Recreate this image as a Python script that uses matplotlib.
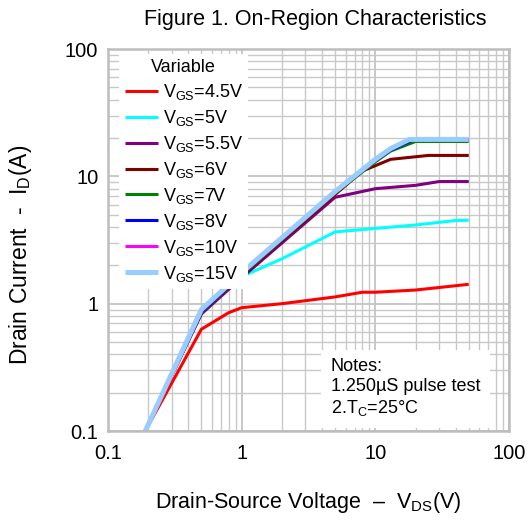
import matplotlib
matplotlib.use("Agg")
import matplotlib.pyplot as plt
from matplotlib.ticker import FixedLocator, FixedFormatter, LogLocator, NullFormatter

plt.rcParams['font.family'] = ['Liberation Sans', 'DejaVu Sans']
plt.rcParams['mathtext.fontset'] = 'custom'
plt.rcParams['mathtext.rm'] = 'Liberation Sans'
plt.rcParams['mathtext.it'] = 'Liberation Sans'

# Vds [V] -> Id [A]
x_45 = [0.19, 0.5, 0.8, 1, 2, 5, 8, 10, 20, 30, 50]
y_45 = [0.1, 0.63, 0.85, 0.93, 1.0, 1.13, 1.23, 1.23, 1.28, 1.34, 1.42]

x_5 = [0.19, 0.5, 1, 2, 5, 10, 20, 40, 50]
y_5 = [0.1, 0.85, 1.63, 2.25, 3.66, 3.9, 4.15, 4.5, 4.52]

x_55 = [0.19, 0.5, 1, 5, 10, 20, 30, 50]
y_55 = [0.1, 0.83, 1.6, 6.85, 8.0, 8.5, 9.1, 9.1]

x_6 = [0.19, 0.5, 1, 5, 8, 13, 25, 50]
y_6 = [0.1, 0.85, 1.65, 7.2, 11.0, 13.6, 14.6, 14.6]

x_7 = [0.19, 0.5, 1, 5, 10, 13, 20, 50]
y_7 = [0.1, 0.85, 1.68, 7.4, 13.0, 15.8, 18.8, 18.8]

x_8 = [0.19, 0.5, 1, 5, 10, 13, 19, 50]
y_8 = [0.1, 0.86, 1.7, 7.5, 13.3, 16.0, 19.3, 19.3]

x_10 = [0.19, 0.5, 1, 5, 10, 13, 18, 50]
y_10 = [0.1, 0.88, 1.73, 7.55, 13.5, 16.3, 19.5, 19.5]

x_15 = [0.19, 0.5, 1, 5, 10, 13, 18, 50]
y_15 = [0.1, 0.9, 1.75, 7.6, 13.6, 16.5, 19.5, 19.5]

etykiety = ["4.5V", "5V", "5.5V", "6V", "7V", "8V", "10V", "15V"]
kolory = ["#ff0000", "#00ffff", "#800080", "#800000", "#008000", "#0000ff", "#ff00ff", "#99ccff"]
grubosci = [2.2, 2.2, 2.2, 2.2, 2.2, 2.2, 2.2, 3.6]
serie = [(x_45, y_45), (x_5, y_5), (x_55, y_55), (x_6, y_6),
         (x_7, y_7), (x_8, y_8), (x_10, y_10), (x_15, y_15)]

fig = plt.figure(figsize=(5.28, 5.22), dpi=100)
ax = fig.add_axes([0.2045, 0.1743, 0.7595, 0.7318])

for (xs, ys), et, kol, lw in zip(serie, etykiety, kolory, grubosci):
    ax.plot(xs, ys, color=kol, lw=lw, label=r"V$_\mathregular{GS}$=" + et,
            solid_capstyle='butt')

ax.set_xscale('log')
ax.set_yscale('log')
ax.set_xlim(0.1, 100)
ax.set_ylim(0.1, 100)

ticki = [0.1, 1, 10, 100]
napisy = ["0.1", "1", "10", "100"]
ax.xaxis.set_major_locator(FixedLocator(ticki))
ax.xaxis.set_major_formatter(FixedFormatter(napisy))
ax.yaxis.set_major_locator(FixedLocator(ticki))
ax.yaxis.set_major_formatter(FixedFormatter(napisy))
ax.xaxis.set_minor_locator(LogLocator(base=10, subs=range(2, 10)))
ax.yaxis.set_minor_locator(LogLocator(base=10, subs=range(2, 10)))
ax.xaxis.set_minor_formatter(NullFormatter())
ax.yaxis.set_minor_formatter(NullFormatter())
ax.tick_params(which='both', length=0, labelsize=14.5)
ax.tick_params(axis='x', pad=9)
ax.tick_params(axis='y', pad=7)

ax.grid(True, which='major', color='#c4c4c4', lw=1.3)
ax.grid(True, which='minor', color='#c8c8c8', lw=1.0)
ax.set_axisbelow(True)
for s in ax.spines.values():
    s.set_color('#bdbdbd')
    s.set_linewidth(1.8)

fig.text(0.597, 0.962, "Figure 1. On-Region Characteristics", fontsize=15.5,
         ha='center', va='center')
ax.set_xlabel(r"Drain-Source Voltage  –  V$_\mathregular{DS}$(V)", fontsize=15.5, labelpad=20)
ax.set_ylabel(r"Drain Current  -  I$_\mathregular{D}$(A)", fontsize=16.5)
ax.yaxis.set_label_coords(-0.185, 0.46)

leg = ax.legend(loc='upper left', bbox_to_anchor=(0.028, 0.988), title="Variable",
                fontsize=13, title_fontsize=13, frameon=True, fancybox=False,
                handlelength=1.85, handletextpad=0.25, labelspacing=0.33,
                borderpad=0.3, borderaxespad=0.0)
leg.get_frame().set_facecolor('white')
leg.get_frame().set_edgecolor('none')
leg.get_frame().set_alpha(1)

ax.text(0.556, 0.112, "Notes:\n1.250µS pulse test\n2.T$_\mathregular{C}$=25°C",
        transform=ax.transAxes, fontsize=13, va='center', ha='left',
        linespacing=1.2,
        bbox=dict(facecolor='white', edgecolor='none', pad=7))

fig.savefig("out.png", dpi=100)
